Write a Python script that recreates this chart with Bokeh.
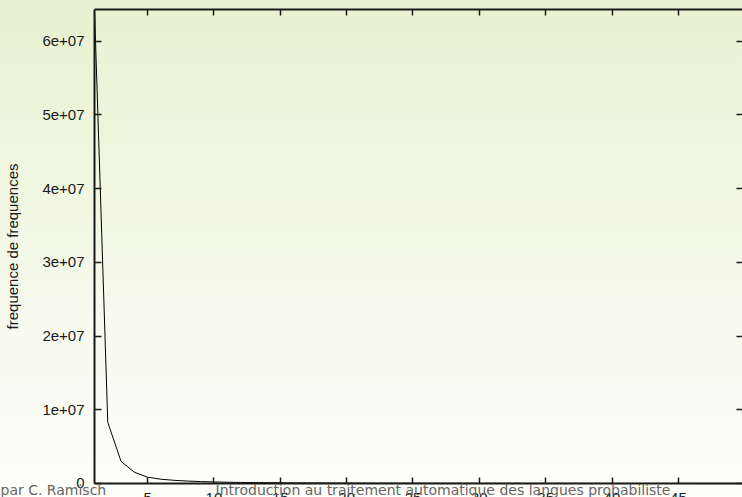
from bokeh.plotting import figure
from bokeh.models import (Range1d, LinearAxis, FixedTicker, ColumnDataSource,
                          Label, CustomJSTickFormatter)
from bokeh.embed import file_html
from bokeh.resources import INLINE

# frequency of frequencies: how many types occur exactly k times
ranks = list(range(1, 51))
freq_of_freq = [
    64300000, 8300000, 3000000, 1530000, 850000, 580000, 430000, 330000,
    260000, 210000, 175000, 145000, 125000, 108000, 94000, 83000, 74000,
    66000, 59000, 53000, 48000, 44000, 40000, 37000, 34000, 31500, 29000,
    27000, 25000, 23500, 22000, 20500, 19300, 18200, 17200, 16200, 15300,
    14500, 13700, 13000, 12400, 11800, 11200, 10700, 10200, 9700, 9300,
    8900, 8500, 8100,
]

x_ticks = [5, 10, 15, 20, 25, 30, 35, 40, 45, 50]
x_tick_labels = ["5", "10", "15", "20", "25", "30", "35", "40", "45", "50"]
y_ticks = [0, 10000000, 20000000, 30000000, 40000000, 50000000, 60000000]
y_tick_labels = ["0", "1e+07", "2e+07", "3e+07", "4e+07", "5e+07", "6e+07"]

y_title = "frequence de frequences"
footer_author = "par C. Ramisch"
footer_title = "Introduction au traitement automatique des langues probabiliste"

X_MIN, X_MAX = 1, 50
Y_MIN, Y_MAX = 0, 64300000

TICK_FONT = "Liberation Sans"
INK = "#1a1a1a"

# The plotting area spans the whole page; the axes are pinned to the data
# box (x = 1, y = 0) so the tick labels and the slide footer can sit in the
# strip below and left of it.
p = figure(
    width=742, height=497,
    output_backend="svg", toolbar_location=None,
    x_range=Range1d(-6.084, 49.83), y_range=Range1d(-1900000, Y_MAX),
    min_border_left=0, min_border_right=0,
    min_border_top=9, min_border_bottom=0,
    background_fill_color=None, border_fill_color=None,
    outline_line_color=None,
)
p.styles = {"background": "linear-gradient(to bottom, #e9f1d1 0%, #f4f8e7 50%, #fefefb 100%)"}
p.xgrid.visible = False
p.ygrid.visible = False

blank = CustomJSTickFormatter(code="return ''")

# left axis: labelled, ticks pointing inward
ya = p.yaxis[0]
ya.fixed_location = X_MIN
ya.bounds = (Y_MIN, Y_MAX)
ya.ticker = FixedTicker(ticks=y_ticks)
ya.major_label_overrides = {t: s for t, s in zip(y_ticks, y_tick_labels)}
ya.major_tick_in = 7
ya.major_tick_out = 0
ya.minor_tick_in = 0
ya.minor_tick_out = 0
ya.major_label_standoff = 10
ya.major_label_text_font = TICK_FONT
ya.major_label_text_font_size = "15px"
ya.major_label_text_color = INK
ya.axis_line_color = INK
ya.axis_line_width = 2
ya.major_tick_line_color = INK
ya.major_tick_line_width = 1.5
ya.axis_label = y_title
ya.axis_label_text_font = TICK_FONT
ya.axis_label_text_font_size = "15px"
ya.axis_label_text_font_style = "normal"
ya.axis_label_text_color = INK
ya.axis_label_standoff = 18

# bottom axis
xa = p.xaxis[0]
xa.fixed_location = Y_MIN
xa.bounds = (X_MIN, X_MAX)
xa.ticker = FixedTicker(ticks=x_ticks)
xa.major_label_overrides = {t: s for t, s in zip(x_ticks, x_tick_labels)}
xa.major_tick_in = 6
xa.major_tick_out = 0
xa.minor_tick_in = 0
xa.minor_tick_out = 0
xa.major_label_standoff = 10
xa.major_label_text_font = TICK_FONT
xa.major_label_text_font_size = "15px"
xa.major_label_text_color = INK
xa.axis_line_color = INK
xa.axis_line_width = 2
xa.major_tick_line_color = INK
xa.major_tick_line_width = 1.5

# mirrored ticks on top and right
top = LinearAxis(ticker=FixedTicker(ticks=x_ticks), formatter=blank,
                 bounds=(X_MIN, X_MAX),
                 major_tick_in=6, major_tick_out=0,
                 minor_tick_in=0, minor_tick_out=0,
                 major_label_standoff=0, major_label_text_font_size="0px",
                 axis_line_color=INK, axis_line_width=2,
                 major_tick_line_color=INK, major_tick_line_width=1.5)
p.add_layout(top, "above")
right = LinearAxis(ticker=FixedTicker(ticks=y_ticks), formatter=blank,
                   bounds=(Y_MIN, Y_MAX),
                   major_tick_in=6, major_tick_out=0,
                   minor_tick_in=0, minor_tick_out=0,
                   major_label_standoff=0, major_label_text_font_size="0px",
                   axis_line_color=None,
                   major_tick_line_color=INK, major_tick_line_width=1.5)
p.add_layout(right, "right")

# the curve
src = ColumnDataSource(data=dict(k=ranks, n=freq_of_freq))
p.line("k", "n", source=src, line_color="black", line_width=1)

# slide footer
for txt, sx in [(footer_author, 0), (footer_title, 215)]:
    p.add_layout(Label(x=sx, y=8, x_units="screen", y_units="screen",
                       text=txt, text_font="DejaVu Sans",
                       text_font_size="14px", text_color="#666666",
                       text_baseline="alphabetic", text_align="left"))

open("out.html", "w").write(file_html(p, INLINE))
